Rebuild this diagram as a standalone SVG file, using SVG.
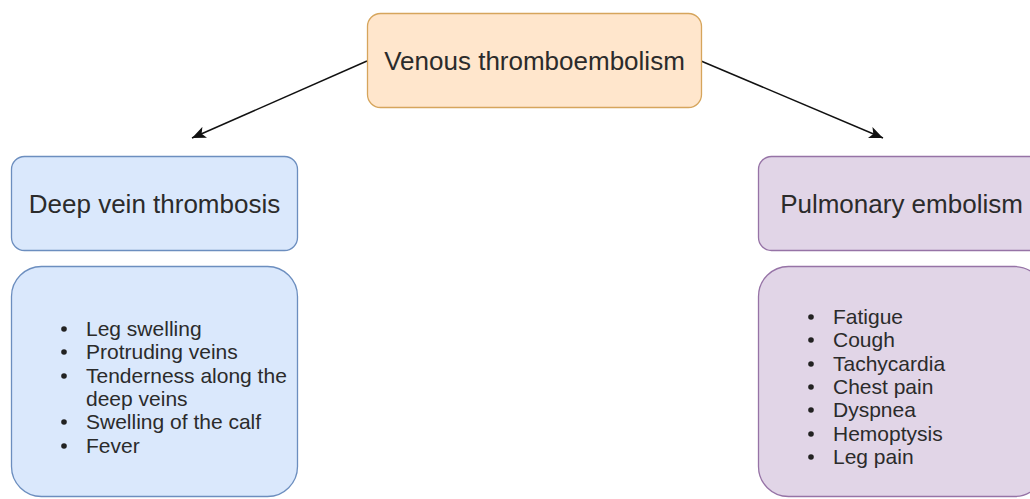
<svg xmlns="http://www.w3.org/2000/svg" width="1030" height="499" viewBox="0 0 1030 499">
<style>
.t{font-family:"Liberation Sans",Arial,sans-serif;fill:#2b2b2b}
.h{font-size:26px}
.l{font-size:21px}
.orange{fill:#ffe6cc;stroke:#d6a55c;stroke-width:1.3}
.blue{fill:#dae8fc;stroke:#6c8ebf;stroke-width:1.3}
.purple{fill:#e1d5e7;stroke:#9673a6;stroke-width:1.3}
.edge{stroke:#111;stroke-width:1.5;fill:none}
.dot{fill:#222}
</style>
<defs>
<marker id="arr" markerUnits="userSpaceOnUse" markerWidth="16" markerHeight="12" refX="14" refY="6" orient="auto">
<path d="M0,0 L14,6 L0,12 L3.5,6 Z" fill="#111"/>
</marker>
</defs>
<rect width="1030" height="499" fill="#ffffff"/>
<g id="connectors">
<line class="edge" x1="367" y1="61" x2="192" y2="138" marker-end="url(#arr)"/>
<line class="edge" x1="701" y1="61" x2="883" y2="138" marker-end="url(#arr)"/>
</g>
<g id="vte">
<rect class="orange" x="367.5" y="13.5" width="334" height="94" rx="13"/>
<text class="t h" x="534.5" y="70" text-anchor="middle">Venous thromboembolism</text>
</g>
<g id="dvt">
<rect class="blue" x="11.5" y="156.5" width="286" height="94" rx="13"/>
<text class="t h" x="154.5" y="213" text-anchor="middle">Deep vein thrombosis</text>
</g>
<g id="dvt-symptoms">
<rect class="blue" x="11.5" y="266.5" width="286" height="230" rx="30"/>
<circle class="dot" cx="64" cy="329" r="2.8"/>
<circle class="dot" cx="64" cy="352" r="2.8"/>
<circle class="dot" cx="64" cy="376" r="2.8"/>
<circle class="dot" cx="64" cy="422" r="2.8"/>
<circle class="dot" cx="64" cy="446" r="2.8"/>
<text class="t l" x="86" y="336">Leg swelling</text>
<text class="t l" x="86" y="359">Protruding veins</text>
<text class="t l" x="86" y="383">Tenderness along the</text>
<text class="t l" x="86" y="406">deep veins</text>
<text class="t l" x="86" y="429">Swelling of the calf</text>
<text class="t l" x="86" y="453">Fever</text>
</g>
<g id="pe">
<rect class="purple" x="758.5" y="156.5" width="286" height="94" rx="13"/>
<text class="t h" x="901.5" y="213" text-anchor="middle">Pulmonary embolism</text>
</g>
<g id="pe-symptoms">
<rect class="purple" x="758.5" y="266.5" width="286" height="230" rx="30"/>
<circle class="dot" cx="811" cy="317" r="2.8"/>
<circle class="dot" cx="811" cy="340" r="2.8"/>
<circle class="dot" cx="811" cy="364" r="2.8"/>
<circle class="dot" cx="811" cy="387" r="2.8"/>
<circle class="dot" cx="811" cy="410" r="2.8"/>
<circle class="dot" cx="811" cy="434" r="2.8"/>
<circle class="dot" cx="811" cy="457" r="2.8"/>
<text class="t l" x="833" y="324">Fatigue</text>
<text class="t l" x="833" y="347">Cough</text>
<text class="t l" x="833" y="371">Tachycardia</text>
<text class="t l" x="833" y="394">Chest pain</text>
<text class="t l" x="833" y="417">Dyspnea</text>
<text class="t l" x="833" y="441">Hemoptysis</text>
<text class="t l" x="833" y="464">Leg pain</text>
</g>
</svg>
